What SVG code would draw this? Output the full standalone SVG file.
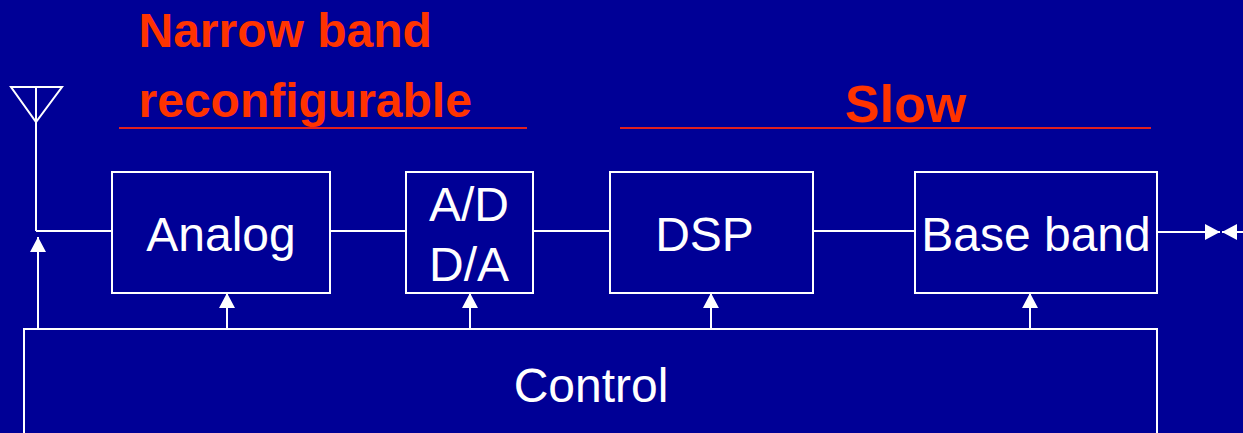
<svg xmlns="http://www.w3.org/2000/svg" width="1243" height="433" viewBox="0 0 1243 433">
<style>
.b{fill:none;stroke:#fff;stroke-width:2}
.l{fill:none;stroke:#fff;stroke-width:2}
.t{font-family:"Liberation Sans",Arial,sans-serif;font-size:48px;fill:#fff;text-anchor:middle}
.r{font-family:"Liberation Sans",Arial,sans-serif;font-size:48px;font-weight:bold;fill:#ff3300}
.u{stroke:#e02020;stroke-width:2}
</style>
<defs><marker id="a" markerUnits="userSpaceOnUse" markerWidth="16" markerHeight="16" refX="15" refY="8" orient="auto"><path d="M0 0L15 8L0 16Z" fill="#fff"/></marker></defs>
<rect width="1243" height="433" fill="#000096"/>
<g id="title-left"><text class="r" x="138.500" y="47">Narrow band</text><text class="r" x="138.500" y="117">reconfigurable</text><line class="u" x1="119" y1="128" x2="527" y2="128"/></g>
<g id="title-right"><text class="r" x="845" y="122" style="font-size:52px">Slow</text><line class="u" x1="620" y1="128" x2="1151" y2="128"/></g>
<g id="antenna"><path class="l" d="M36 231V122M11 87H62L36 122ZM36 87V122"/></g>
<g id="analog"><rect class="b" x="112" y="172" width="218" height="121"/><text class="t" x="221" y="251">Analog</text></g>
<g id="adda"><rect class="b" x="406" y="172" width="127" height="121"/><text class="t" x="469" y="221">A/D</text><text class="t" x="469" y="281">D/A</text></g>
<g id="dsp"><rect class="b" x="610" y="172" width="203" height="121"/><text class="t" x="704.500" y="251">DSP</text></g>
<g id="baseband"><rect class="b" x="915" y="172" width="242" height="121"/><text class="t" x="1036" y="251">Base band</text></g>
<g id="control"><path class="b" d="M24 433V329H1157V433"/><text class="t" x="591" y="402">Control</text></g>
<g id="connectors">
<path class="l" d="M36 231H112M330 231H406M533 231H610M813 231H915"/>
<path class="l" d="M1157 232H1220" marker-end="url(#a)"/>
<path class="l" d="M1243 232H1222" marker-end="url(#a)"/>
<path class="l" d="M38 330V237" marker-end="url(#a)"/>
<path class="l" d="M227 329V293" marker-end="url(#a)"/>
<path class="l" d="M470 329V293" marker-end="url(#a)"/>
<path class="l" d="M711 329V293" marker-end="url(#a)"/>
<path class="l" d="M1030 329V293" marker-end="url(#a)"/>
</g>
</svg>
